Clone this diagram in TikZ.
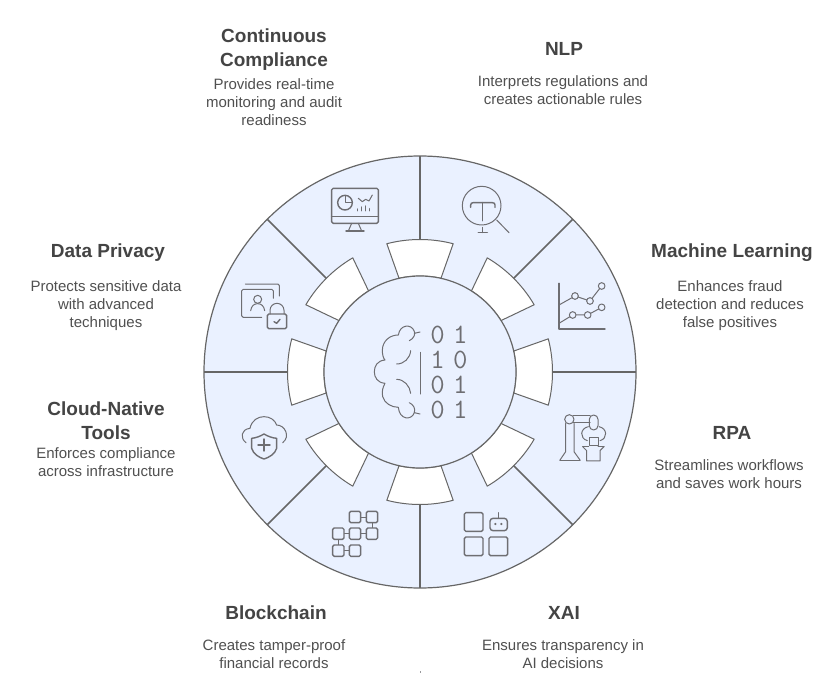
\documentclass[tikz,border=0pt]{standalone}
\usepackage{fontspec}
\setmainfont{Liberation Sans}
\definecolor{wheelfill}{HTML}{EAF1FF}
\definecolor{wheelline}{HTML}{666666}
\definecolor{iconline}{HTML}{6E6E72}
\definecolor{titlecol}{HTML}{444444}
\definecolor{bodycol}{HTML}{505050}
\tikzset{
 titletext/.style={font=\fontsize{19}{24}\selectfont\bfseries,text=titlecol,align=center,inner sep=0pt},
 bodytext/.style={font=\fontsize{15}{18}\selectfont,text=bodycol,align=center,inner sep=0pt},
 digit/.style={font=\fontsize{28}{28}\selectfont\ttfamily,text=iconline,inner sep=0pt},
 icon/.style={draw=iconline,line width=1pt,line cap=round,line join=round},
 iconthick/.style={draw=iconline,line width=1.4pt,line cap=round,line join=round},
 zoomed/.style={x=0.33333pt,y=-0.33333pt},
 spoke/.style={draw=wheelline,line width=1.5pt},
 notch/.style={draw=wheelline,line width=1pt,fill=white,line join=round},
}
\begin{document}
\begin{tikzpicture}[x=1pt,y=-1pt]
\useasboundingbox (0,0) rectangle (840,676);
\fill[white] (0,0) rectangle (840,676);
\coordinate (c) at (420,372);
% wheel
\begin{scope}[shift={(c)},x=1pt,y=1pt]
 \draw[draw=wheelline,line width=1.2pt,fill=wheelfill] (0,0) circle[radius=216];
 \foreach \a in {0,45,...,315}{
  \draw[spoke] (\a:132) -- (\a:216);
 }
 \foreach \a in {0,45,...,315}{
  \draw[notch] (\a-14.5:132.5) arc[start angle=\a-14.5,end angle=\a+14.5,radius=132.5] -- (\a+12.6:96) arc[start angle=\a+12.6,end angle=\a-12.6,radius=96] -- cycle;
 }
 \draw[draw=wheelline,line width=1.2pt,fill=wheelfill] (0,0) circle[radius=96];
\end{scope}
% centre brain
\begin{scope}[shift={(340,300)},zoomed]
 \draw[icon] (208,122) .. controls (222,116) and (228,100) .. (222,92) .. controls (214,72) and (180,72) .. (175,105)
  .. controls (150,105) and (128,122) .. (127,150) .. controls (127,165) and (130,175) .. (135,180)
  .. controls (112,182) and (103,198) .. (103,215) .. controls (103,232) and (112,248) .. (135,250)
  .. controls (128,262) and (125,275) .. (128,290) .. controls (133,310) and (155,322) .. (175,322)
  .. controls (178,360) and (215,362) .. (223,338) .. controls (227,325) and (220,314) .. (208,308);
 \draw[icon] (223,100) -- (240,96);
 \draw[icon] (223,338) -- (240,342);
 \draw[icon] (212,152) .. controls (210,175) and (192,192) .. (170,192);
 \draw[icon] (170,238) .. controls (192,238) and (210,258) .. (212,280);
 \draw[icon] (240,157) -- (240,282);
\end{scope}
\node[digit] (d1a) at (437.7,335) {0};
\node[digit] (d1b) at (460.3,335) {1};
\node[digit] (d2a) at (437.7,360) {1};
\node[digit] (d2b) at (460.3,360) {0};
\node[digit] (d3a) at (437.7,385) {0};
\node[digit] (d3b) at (460.3,385) {1};
\node[digit] (d4a) at (437.7,410) {0};
\node[digit] (d4b) at (460.3,410) {1};
% monitor
\begin{scope}[shift={(300,150)},zoomed]
 \draw[iconthick,rounded corners=1.5pt] (95,115) rectangle (235,220);
 \draw[iconthick] (95,200) -- (235,200);
 \draw[icon] (155,220) -- (145,243) (175,220) -- (185,243);
 \draw[iconthick] (138,243) -- (192,243);
 \draw[iconthick] (135,158) circle[radius=22];
 \draw[icon] (135,136) -- (135,158) -- (157,158);
 \draw[icon] (175,145) -- (187,155) -- (197,148) -- (207,153) -- (217,135);
 \draw[iconthick] (172,182) -- (172,177) (184,182) -- (184,171) (196,182) -- (196,168) (209,182) -- (209,176);
\end{scope}
% magnifier T
\begin{scope}[shift={(300,150)},zoomed]
 \draw[icon] (545,167) circle[radius=58];
 \draw[iconthick] (512,172) -- (512,165) .. controls (512,160) and (515,158) .. (520,158) -- (577,158) .. controls (582,158) and (585,160) .. (585,165) -- (585,172);
 \draw[iconthick] (548,158) -- (548,212);
 \draw[icon] (548,232) -- (548,248);
 \draw[iconthick] (535,248) -- (562,248);
 \draw[icon] (590,210) -- (627,248);
\end{scope}
% line chart
\begin{scope}[shift={(530,260)},zoomed]
 \draw[iconthick] (87,70) -- (87,207) -- (225,207);
 \draw[icon] (87,135) -- (135,108) -- (180,123) -- (215,78);
 \draw[icon] (87,190) -- (128,165) -- (173,165) -- (215,142);
 \foreach \p in {(135,108),(180,123),(215,78),(128,165),(173,165),(215,142)}{
  \draw[icon,fill=wheelfill] \p circle[radius=10];
 }
\end{scope}
% robot arm
\begin{scope}[shift={(530,260)},zoomed]
 \draw[icon] (107,490) -- (107,575) -- (90,600) (132,490) -- (132,575) -- (150,600);
 \draw[iconthick] (90,601) -- (150,601);
 \draw[icon] (118,478) circle[radius=14];
 \draw[icon] (130,468) -- (180,468) (130,488) -- (180,488);
 \draw[icon] (178,478) arc[start angle=180,end angle=360,radius=13] -- (204,497) arc[start angle=0,end angle=180,radius=13] -- cycle;
 \draw[icon] (175,500) .. controls (150,505) and (148,535) .. (172,542);
 \draw[icon] (207,500) .. controls (232,505) and (234,535) .. (210,542);
 \draw[icon] (178,532) rectangle (204,556);
 \draw[icon] (158,560) -- (170,572) -- (170,603) -- (210,603) -- (210,572) -- (222,560);
 \draw[icon] (158,560) -- (176,560) (222,560) -- (204,560);
\end{scope}
% XAI
\begin{scope}[shift={(310,490)},zoomed]
 \draw[iconthick,rounded corners=1.5pt] (463,68) rectangle (519,124);
 \draw[iconthick,rounded corners=1.5pt] (463,141) rectangle (519,197);
 \draw[iconthick,rounded corners=1.5pt] (537,141) rectangle (593,197);
 \draw[iconthick,rounded corners=3pt] (540,85) rectangle (592,122);
 \draw[icon] (566,68) -- (566,85);
 \fill[iconline] (556,102) circle[radius=3.5] (574,102) circle[radius=3.5];
\end{scope}
% blockchain
\begin{scope}[shift={(310,490)},zoomed]
 \draw[icon] (135,81) -- (186,81) -- (186,131) -- (85,131) -- (85,182) -- (135,182);
 \foreach \p in {(135,81),(186,81),(85,131),(135,131),(186,131),(85,182),(135,182)}{
  \draw[iconthick,fill=wheelfill,rounded corners=1.5pt] \p ++(-17,-17) rectangle ++(34,34);
 }
\end{scope}
% cloud shield
\begin{scope}[shift={(220,270)},zoomed]
 \draw[icon] (78,518) .. controls (60,505) and (62,478) .. (90,475) .. controls (95,450) and (115,440) .. (132,440) .. controls (150,440) and (165,450) .. (170,465) .. controls (195,465) and (212,500) .. (188,518);
 \draw[iconthick] (95,505) .. controls (108,504) and (122,498) .. (132,492) .. controls (142,498) and (156,504) .. (170,505) -- (170,535) .. controls (165,552) and (148,562) .. (132,567) .. controls (116,562) and (100,552) .. (95,535) -- cycle;
 \draw[iconthick] (114,525) -- (150,525) (132,507) -- (132,543);
\end{scope}
% data privacy
\begin{scope}[shift={(220,270)},zoomed]
 \draw[icon,rounded corners=1.5pt] (76,42) -- (178,42) -- (178,78);
 \draw[icon,rounded corners=1.5pt] (160,85) -- (160,58) -- (65,58) -- (65,142) -- (125,142);
 \draw[icon] (113,88) circle[radius=12];
 \draw[icon] (92,122) .. controls (94,108) and (102,101) .. (113,101) .. controls (124,101) and (132,108) .. (134,122);
 \draw[iconthick,rounded corners=1.5pt] (142,132) rectangle (200,176);
 \draw[icon] (150,132) -- (150,121) arc[start angle=180,end angle=360,radius=21] -- (192,132);
 \draw[iconthick] (162,155) -- (170,160) -- (180,148);
\end{scope}
% stray tick at the foot of the picture
\draw[draw=iconline!70,line width=0.7pt] (420,671) -- (420,673);
% labels
\node[titletext] (t1) at (274,49.5) {Continuous\\Compliance};
\node[bodytext] (b1) at (274,102) {Provides real-time\\monitoring and audit\\readiness};
\node[titletext] (t2) at (564,49) {NLP};
\node[bodytext] (b2) at (563,90) {Interprets regulations and\\creates actionable rules};
\node[titletext] (t3) at (732,253) {Machine Learning};
\node[bodytext] (b3) at (730,306) {Enhances fraud\\detection and reduces\\false positives};
\node[titletext] (t4) at (732,433) {RPA};
\node[bodytext] (b4) at (729,474) {Streamlines workflows\\and saves work hours};
\node[titletext] (t5) at (564,613) {XAI};
\node[bodytext] (b5) at (563,654) {Ensures transparency in\\AI decisions};
\node[titletext] (t6) at (276,613) {Blockchain};
\node[bodytext] (b6) at (274,654) {Creates tamper-proof\\financial records};
\node[titletext] (t7) at (106,421) {Cloud-Native\\Tools};
\node[bodytext] (b7) at (106,462) {Enforces compliance\\across infrastructure};
\node[titletext] (t8) at (108,253) {Data Privacy};
\node[bodytext] (b8) at (106,306) {Protects sensitive data\\with advanced\\techniques};
\end{tikzpicture}
\end{document}
